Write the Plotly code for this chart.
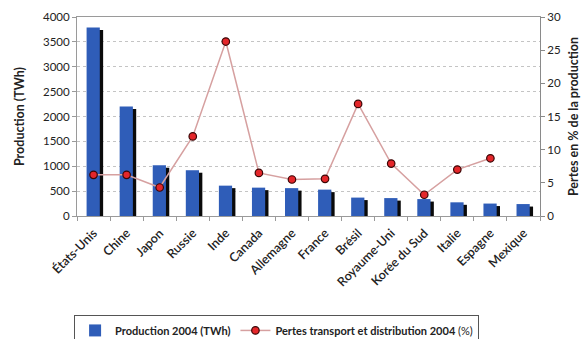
import plotly.graph_objects as go

countries = ["États-Unis", "Chine", "Japon", "Russie", "Inde", "Canada", "Allemagne",
             "France", "Brésil", "Royaume-Uni", "Korée du Sud", "Italie", "Espagne", "Mexique"]
production = [3790, 2200, 1020, 920, 610, 570, 560, 530, 370, 360, 340, 275, 250, 240]
pertes = [6.2, 6.2, 4.3, 12.0, 26.3, 6.5, 5.5, 5.6, 16.9, 7.9, 3.2, 7.0, 8.7, None]

FONT = "Lato"
shadow_drop = 50

fig = go.Figure()

# shadow of the bars
fig.add_trace(go.Bar(
    x=countries, y=[v - shadow_drop for v in production],
    width=0.4, offset=-0.11, marker=dict(color="#0a0a0a", line=dict(width=0)),
    showlegend=False, hoverinfo="skip"))

fig.add_trace(go.Bar(
    x=countries, y=production, name="<b>Production 2004 (TWh)</b>",
    width=0.4, offset=-0.21, marker=dict(color="#2f5db8", line=dict(width=0))))

fig.add_trace(go.Scatter(
    x=countries, y=pertes, yaxis="y2", mode="lines+markers",
    name="<b>Pertes transport et distribution 2004</b> (%)",
    line=dict(color="#d6a0a0", width=1.5),
    marker=dict(color="#e4262a", size=7.5, line=dict(color="#3a0606", width=1.2)),
    connectgaps=False))

fig.update_layout(
    width=588, height=339,
    margin=dict(l=77, r=48, t=17, b=123, autoexpand=False),
    paper_bgcolor="white", plot_bgcolor="white",
    barmode="overlay",
    font=dict(family=FONT, size=11.5, color="#222222"),
    showlegend=True,
    legend=dict(orientation="h", xref="container", x=0.126, xanchor="left",
                yref="container", y=0.071, yanchor="top",
                bordercolor="#555555", borderwidth=1, font=dict(size=11, color="#222"),
                tracegroupgap=0),
    xaxis=dict(showline=True, linecolor="#9a9a9a", linewidth=1, mirror=True,
               ticks="outside", tickson="boundaries", ticklen=4, tickcolor="#9a9a9a",
               tickangle=-45, tickfont=dict(size=12.5, color="#222", weight=600),
               ticklabelstandoff=4,
               showgrid=False, range=[-0.5, 13.5]),
    yaxis=dict(range=[0, 4000], dtick=500, showline=True, linecolor="#9a9a9a",
               ticks="outside", ticklen=4, tickcolor="#9a9a9a",
               showgrid=True, gridcolor="#c4c4c4", griddash="dot", gridwidth=1,
               zeroline=False,
               title=dict(text="<b>Production (TWh)</b>", font=dict(size=12.5), standoff=15)),
    yaxis2=dict(range=[0, 30], dtick=5, overlaying="y", side="right",
                showline=True, linecolor="#8a8a8a", ticks="outside", ticklen=4,
                tickcolor="#8a8a8a", showgrid=False, zeroline=False,
                title=dict(text="<b>Pertes en % de la production</b>", font=dict(size=12.5), standoff=9)),
)

fig.write_html("out.html")
